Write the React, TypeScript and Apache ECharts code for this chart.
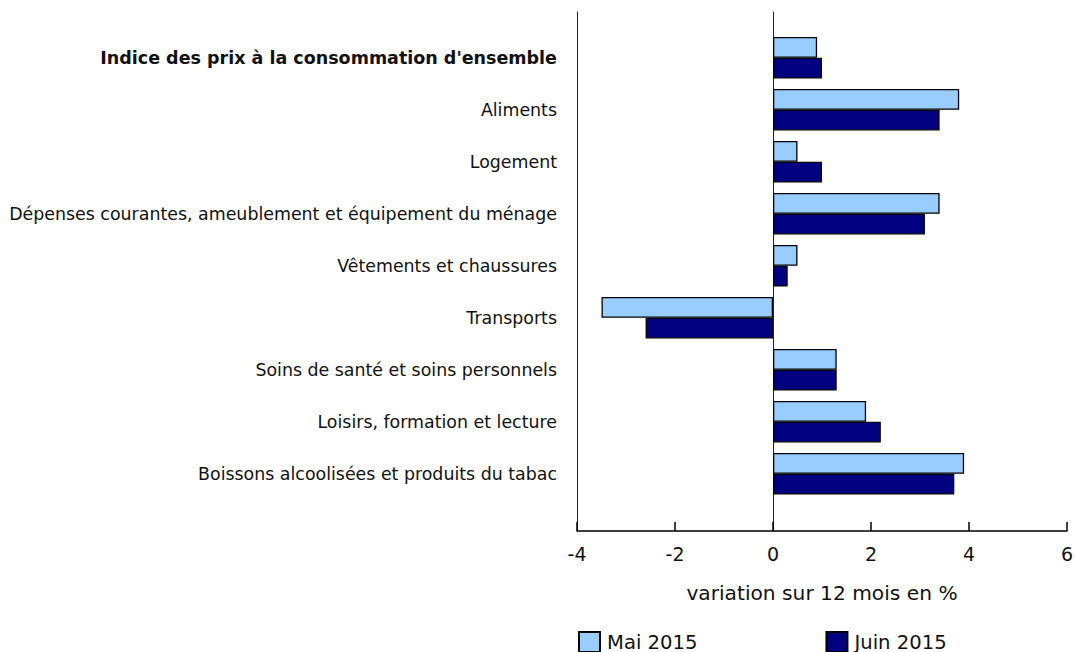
import React, { useEffect, useRef } from "react";
import * as echarts from "echarts";

const categories = [
  "Indice des prix à la consommation d'ensemble",
  "Aliments",
  "Logement",
  "Dépenses courantes, ameublement et équipement du ménage",
  "Vêtements et chaussures",
  "Transports",
  "Soins de santé et soins personnels",
  "Loisirs, formation et lecture",
  "Boissons alcoolisées et produits du tabac",
];
const mai2015 = [0.9, 3.8, 0.5, 3.4, 0.5, -3.5, 1.3, 1.9, 3.9];
const juin2015 = [1.0, 3.4, 1.0, 3.1, 0.3, -2.6, 1.3, 2.2, 3.7];
const seriesNames = ["Mai 2015", "Juin 2015"];
const xMin = -4;
const xMax = 6;
const xInterval = 2;
const axisTitle = "variation sur 12 mois en %";

const FONT = "DejaVu Sans";

export default function App() {
  const ref = useRef<HTMLDivElement>(null);
  useEffect(() => {
    document.body.style.margin = "0";
    if (!ref.current) return;
    const chart = echarts.init(ref.current, undefined, { renderer: "svg" });
    chart.setOption({
      animation: false,
      textStyle: { fontFamily: FONT },
      grid: [
        { left: 577, right: 9, top: 12, bottom: 121 },
        { left: 577, right: 9, top: 31.7, bottom: 152.3 },
      ],
      xAxis: [
        {
          type: "value",
          gridIndex: 0,
          min: xMin,
          max: xMax,
          interval: xInterval,
          axisLine: { show: true, onZero: false, lineStyle: { color: "#000", width: 1.5 } },
          axisTick: { show: true, inside: true, length: 9, lineStyle: { color: "#000", width: 1.5 } },
          axisLabel: { color: "#111", fontSize: 19, fontFamily: FONT, margin: 13 },
          splitLine: { show: false },
          name: axisTitle,
          nameLocation: "middle",
          nameGap: 52,
          nameTextStyle: { color: "#111", fontSize: 20.2, fontFamily: FONT },
        },
        {
          type: "value",
          gridIndex: 1,
          min: xMin,
          max: xMax,
          interval: xInterval,
          show: false,
        },
      ],
      yAxis: [
        {
          type: "category",
          gridIndex: 0,
          data: [""],
          axisLine: { show: true, onZero: false, lineStyle: { color: "#222", width: 1 } },
          axisTick: { show: false },
          axisLabel: { show: false },
        },
        {
          type: "category",
          gridIndex: 0,
          data: [""],
          axisLine: { show: true, onZero: true, lineStyle: { color: "#222", width: 1 } },
          axisTick: { show: false },
          axisLabel: { show: false },
        },
        {
          type: "category",
          gridIndex: 1,
          data: categories,
          inverse: true,
          axisLine: { show: false, onZero: false },
          axisTick: { show: false },
          axisLabel: {
            color: "#111",
            fontSize: 17.4,
            fontFamily: FONT,
            margin: 20,
            formatter: (v: string, i: number) => (i === 0 ? "{b|" + v + "}" : v),
            rich: { b: { fontWeight: "bold", fontSize: 17.5, fontFamily: FONT, color: "#111" } },
          },
        },
      ],
      legend: {
        left: 578,
        top: 631,
        padding: 0,
        icon: "rect",
        itemWidth: 21,
        itemHeight: 20,
        itemGap: 128,
        textStyle: { color: "#111", fontSize: 19.6, fontFamily: FONT, lineHeight: 20, padding: [0, 0, 0, 2] },
        data: seriesNames,
      },
      series: [
        {
          name: seriesNames[0],
          type: "bar",
          xAxisIndex: 1,
          yAxisIndex: 2,
          data: mai2015,
          barGap: "0%",
          barCategoryGap: "20%",
          itemStyle: { color: "#99CCFF", borderColor: "#000", borderWidth: 1.3 },
        },
        {
          name: seriesNames[1],
          type: "bar",
          xAxisIndex: 1,
          yAxisIndex: 2,
          data: juin2015,
          barGap: "0%",
          barCategoryGap: "20%",
          itemStyle: { color: "#000080", borderColor: "#000", borderWidth: 1.3 },
        },
      ],
    });
    return () => chart.dispose();
  }, []);
  return <div ref={ref} style={{ width: 1076, height: 652 }} />;
}
